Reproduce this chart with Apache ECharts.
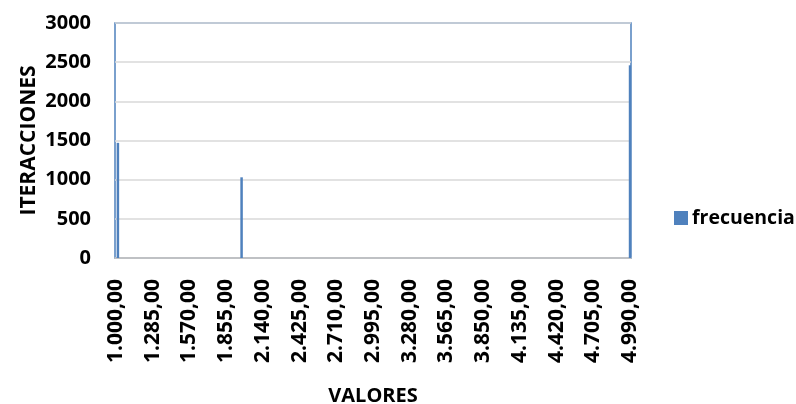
<!DOCTYPE html>
<html>
<head>
<meta charset="utf-8">
<script src="https://cdn.jsdelivr.net/npm/echarts@6/dist/echarts.min.js"></script>
<style>html,body{margin:0;padding:0;background:#fff}#c{width:796px;height:404px}</style>
</head>
<body>
<div id="c"></div>
<script>
// Category axis: values from 1000 to 4990 in steps of 15
var catStart = 1000, catStep = 15, catCount = 267;
// Non-zero bars
var barCategories = [1015, 1975, 4990];
var barValues = [1470, 1030, 2460];
var seriesName = 'frecuencia';
var yTicks = [0, 500, 1000, 1500, 2000, 2500, 3000];

var categories = [];
for (var i = 0; i < catCount; i++) categories.push(catStart + i * catStep);
var values = categories.map(function (c) {
  var k = barCategories.indexOf(c);
  return k >= 0 ? barValues[k] : 0;
});

function fmt(v) {
  v = Number(v);
  var s = Math.floor(v).toString();
  s = s.replace(/\B(?=(\d{3})+(?!\d))/g, '.');
  return s + ',00';
}

var font = '"Open Sans", Lato, sans-serif';
var chart = echarts.init(document.getElementById('c'), null, {renderer: 'canvas'});
chart.setOption({
  animation: false,
  grid: {left: 115, right: 165, top: 23, bottom: 146, show: true, borderColor: '#4F81BD', borderWidth: 1.5,
    backgroundColor: 'transparent', containLabel: false, outerBoundsMode: 'none'},
  legend: {
    data: [seriesName], left: 669, top: 203, itemWidth: 14, itemHeight: 14, itemGap: 5,
    icon: 'rect',
    textStyle: {fontFamily: font, fontWeight: 'bold', fontSize: 19.5, color: '#000', padding: [0, 0, 0, -1]}
  },
  xAxis: {
    type: 'category', data: categories,
    name: 'VALORES', nameLocation: 'middle', nameGap: 128, nameMoveOverlap: false,
    nameTextStyle: {fontFamily: font, fontWeight: 'bold', fontSize: 20, color: '#000'},
    axisLine: {lineStyle: {color: '#bfbfbf', width: 1.5}},
    axisTick: {show: false},
    axisLabel: {interval: 18, rotate: 90, margin: 21, formatter: fmt,
      fontFamily: font, fontWeight: 'bold', fontSize: 21, color: '#000'}
  },
  yAxis: {
    type: 'value', min: yTicks[0], max: yTicks[yTicks.length - 1], interval: 500,
    name: 'ITERACCIONES', nameLocation: 'middle', nameGap: 75, nameRotate: 90, nameMoveOverlap: false,
    nameTextStyle: {fontFamily: font, fontWeight: 'bold', fontSize: 21, color: '#000'},
    axisLine: {show: false}, axisTick: {show: false},
    splitLine: {lineStyle: {color: '#d9d9d9', width: 1.5}},
    axisLabel: {margin: 24, formatter: function (v) { return String(v); },
      fontFamily: font, fontWeight: 'bold', fontSize: 20, color: '#000'}
  },
  series: [{
    name: seriesName, type: 'bar', data: values, barWidth: 2.5,
    itemStyle: {color: '#4F81BD'}
  }]
});
</script>
</body>
</html>
